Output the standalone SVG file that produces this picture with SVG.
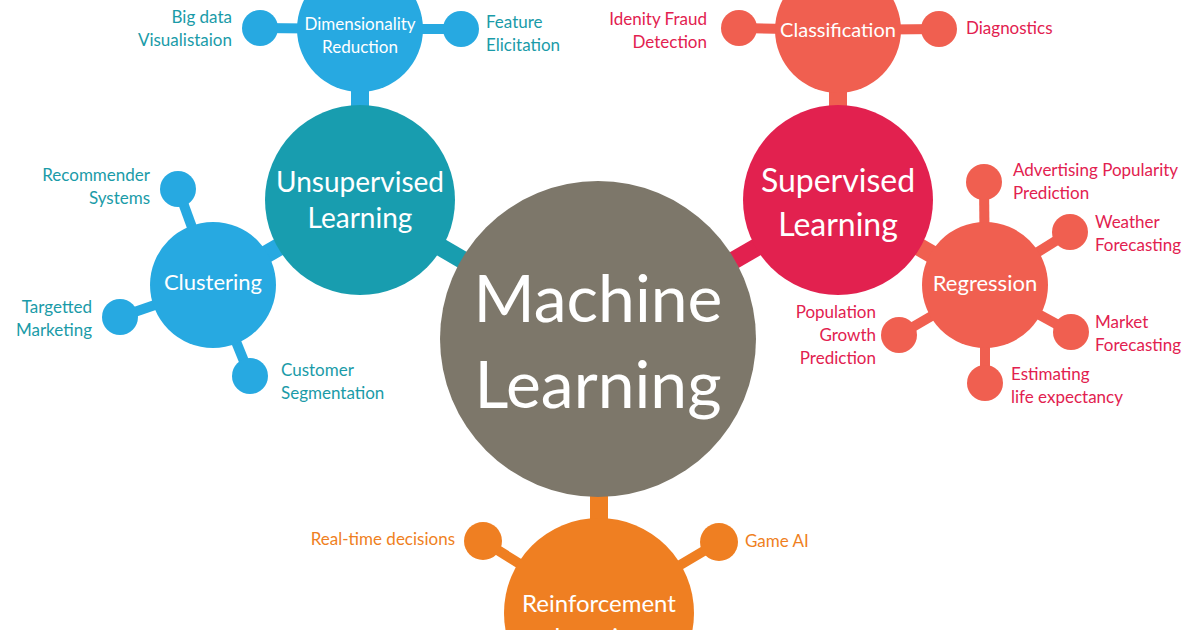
<svg xmlns="http://www.w3.org/2000/svg" width="1200" height="630" viewBox="0 0 1200 630">
<style>
text{font-family:Lato,"Open Sans","Liberation Sans",sans-serif}
.lb{font-size:17px}
.t{fill:#1A9BA8}.r{fill:#E2214F}.o{fill:#EF7F22}
.nt{fill:#fff;text-anchor:middle}
.e{text-anchor:end}
.c1{stroke:#27A9E1}.c2{stroke:#189DAF}.c3{stroke:#F05F50}.c4{stroke:#E2214F}.c5{stroke:#EF7F22}
#connectors line{stroke-width:10}
#connectors line.big{stroke-width:18}
</style>
<rect width="1200" height="630" fill="#fff"/>
<g id="connectors">
<line class="c2 big" x1="360" y1="200" x2="598" y2="339"/>
<line class="c4 big" x1="838" y1="200" x2="598" y2="339"/>
<line class="c5 big" x1="599" y1="613" x2="599" y2="339"/>
<line class="c1 big" x1="360" y1="29" x2="360" y2="200"/>
<line class="c3 big" x1="838" y1="30" x2="838" y2="200"/>
<line class="c1 big" x1="213" y1="285" x2="360" y2="200"/>
<line class="c3 big" x1="985" y1="285" x2="838" y2="200"/>
<line class="c1" x1="360" y1="29" x2="260" y2="28"/>
<line class="c1" x1="360" y1="29" x2="461" y2="29"/>
<line class="c1" x1="213" y1="285" x2="178" y2="189"/>
<line class="c1" x1="213" y1="285" x2="120" y2="317"/>
<line class="c1" x1="213" y1="285" x2="250" y2="376"/>
<line class="c3" x1="838" y1="30" x2="739" y2="28"/>
<line class="c3" x1="838" y1="30" x2="939" y2="29"/>
<line class="c3" x1="985" y1="285" x2="984" y2="182"/>
<line class="c3" x1="985" y1="285" x2="1070" y2="232"/>
<line class="c3" x1="985" y1="285" x2="1071" y2="332"/>
<line class="c3" x1="985" y1="285" x2="985" y2="383"/>
<line class="c3" x1="985" y1="285" x2="899" y2="335"/>
<line class="c5" x1="599" y1="613" x2="483" y2="541"/>
<line class="c5" x1="599" y1="613" x2="719" y2="542"/>
</g>
<g id="ml"><circle cx="598" cy="339" r="158" fill="#7D776A"/>
<text class="nt" x="598" y="322" font-size="66">Machine</text><text class="nt" x="598" y="408" font-size="66">Learning</text></g>
<g id="unsupervised"><circle cx="360" cy="200" r="95" fill="#189DAF"/>
<text class="nt" x="360" y="192" font-size="28">Unsupervised</text><text class="nt" x="360" y="228" font-size="28">Learning</text></g>
<g id="dimensionality"><circle cx="360" cy="29" r="63" fill="#27A9E1"/>
<text class="nt" x="360" y="30" font-size="17">Dimensionality</text><text class="nt" x="360" y="53" font-size="17">Reduction</text></g>
<g id="bigdata"><circle cx="260" cy="28" r="18" fill="#27A9E1"/>
<text class="lb t e" x="232" y="23">Big data</text><text class="lb t e" x="232" y="46">Visualistaion</text></g>
<g id="feature"><circle cx="461" cy="29" r="18" fill="#27A9E1"/>
<text class="lb t" x="486" y="28">Feature</text><text class="lb t" x="486" y="51">Elicitation</text></g>
<g id="clustering"><circle cx="213" cy="285" r="63" fill="#27A9E1"/>
<text class="nt" x="213" y="290" font-size="22">Clustering</text></g>
<g id="recommender"><circle cx="178" cy="189" r="18" fill="#27A9E1"/>
<text class="lb t e" x="150" y="181">Recommender</text><text class="lb t e" x="150" y="204">Systems</text></g>
<g id="targetted"><circle cx="120" cy="317" r="18" fill="#27A9E1"/>
<text class="lb t e" x="92" y="313">Targetted</text><text class="lb t e" x="92" y="336">Marketing</text></g>
<g id="customer"><circle cx="250" cy="376" r="18" fill="#27A9E1"/>
<text class="lb t" x="281" y="376">Customer</text><text class="lb t" x="281" y="399">Segmentation</text></g>
<g id="supervised"><circle cx="838" cy="200" r="95" fill="#E2214F"/>
<text class="nt" x="838" y="192" font-size="32">Supervised</text><text class="nt" x="838" y="236" font-size="32">Learning</text></g>
<g id="classification"><circle cx="838" cy="30" r="63" fill="#F05F50"/>
<text class="nt" x="838" y="37" font-size="20">Classification</text></g>
<g id="identity"><circle cx="739" cy="28" r="18" fill="#F05F50"/>
<text class="lb r e" x="707" y="25">Idenity Fraud</text><text class="lb r e" x="707" y="48">Detection</text></g>
<g id="diagnostics"><circle cx="939" cy="29" r="18" fill="#F05F50"/>
<text class="lb r" x="966" y="34">Diagnostics</text></g>
<g id="regression"><circle cx="985" cy="285" r="63" fill="#F05F50"/>
<text class="nt" x="985" y="291" font-size="22">Regression</text></g>
<g id="advertising"><circle cx="984" cy="182" r="18" fill="#F05F50"/>
<text class="lb r" x="1013" y="176">Advertising Popularity</text><text class="lb r" x="1013" y="199">Prediction</text></g>
<g id="weather"><circle cx="1070" cy="232" r="18" fill="#F05F50"/>
<text class="lb r" x="1095" y="228">Weather</text><text class="lb r" x="1095" y="251">Forecasting</text></g>
<g id="market"><circle cx="1071" cy="332" r="18" fill="#F05F50"/>
<text class="lb r" x="1095" y="328">Market</text><text class="lb r" x="1095" y="351">Forecasting</text></g>
<g id="estimating"><circle cx="985" cy="383" r="18" fill="#F05F50"/>
<text class="lb r" x="1011" y="380">Estimating</text><text class="lb r" x="1011" y="403">life expectancy</text></g>
<g id="population"><circle cx="899" cy="335" r="18" fill="#F05F50"/>
<text class="lb r e" x="876" y="318">Population</text><text class="lb r e" x="876" y="341">Growth</text><text class="lb r e" x="876" y="364">Prediction</text></g>
<g id="reinforcement"><circle cx="599" cy="613" r="95" fill="#EF7F22"/>
<text class="nt" x="599" y="612" font-size="24">Reinforcement</text><text class="nt" x="599" y="645" font-size="24">Learning</text></g>
<g id="realtime"><circle cx="483" cy="541" r="19" fill="#EF7F22"/>
<text class="lb o e" x="455" y="545">Real-time decisions</text></g>
<g id="gameai"><circle cx="719" cy="542" r="19" fill="#EF7F22"/>
<text class="lb o" x="745" y="547">Game AI</text></g>
</svg>
